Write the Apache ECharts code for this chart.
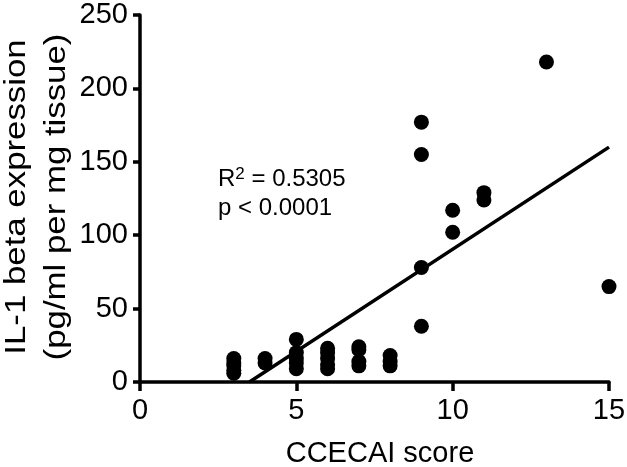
<!DOCTYPE html>
<html>
<head>
<meta charset="utf-8">
<script src="https://cdn.jsdelivr.net/npm/echarts@6/dist/echarts.min.js"></script>
<style>html,body{margin:0;padding:0;background:#fff}#c{width:627px;height:467px}</style>
</head>
<body>
<div id="c"></div>
<script>
// CCECAI score (x) vs IL-1 beta expression (y)
var scoreX = [3,3,3,3,3, 4,4, 5,5,5,5,5, 6,6,6,6,6, 7,7,7,7, 8,8,8, 9,9,9,9, 10,10, 11,11, 13, 15];
var il1Y   = [16,13,11,8,6, 16,13, 29,20,16,13,9, 23,20,16,12,9, 24,22,14,11, 18,14,11, 177,155,78,38, 117,102, 129,124, 218, 65];
// regression line end points
var fitX = [3.5, 15];
var fitY = [0, 160];
var xTicks = [0, 5, 10, 15];
var yTicks = [0, 50, 100, 150, 200, 250];
var statR = ['R', '2', ' = 0.5305'];
var statP = 'p < 0.0001';
var yTitle = ['IL-1 beta expression', '(pg/ml per mg tissue)'];
var xTitle = 'CCECAI score';

var FONT = '"Liberation Sans", Arial, Helvetica, sans-serif';
var points = scoreX.map(function (x, i) { return [x, il1Y[i]]; });
var fit = fitX.map(function (x, i) { return [x, fitY[i]]; });

var chart = echarts.init(document.getElementById('c'), null, {renderer: 'canvas'});
chart.setOption({
  animation: false,
  backgroundColor: '#ffffff',
  grid: {left: 140, right: 18, top: 15, bottom: 85, containLabel: false, outerBoundsMode: 'none'},
  xAxis: {
    type: 'value', min: xTicks[0], max: xTicks[xTicks.length - 1], interval: 5,
    axisLine: {lineStyle: {color: '#000', width: 3.5}},
    axisTick: {show: true, length: 9, lineStyle: {color: '#000', width: 3.5}},
    axisLabel: {color: '#000', fontSize: 29, fontFamily: FONT, margin: 14},
    splitLine: {show: false}
  },
  yAxis: {
    type: 'value', min: yTicks[0], max: yTicks[yTicks.length - 1], interval: 50,
    axisLine: {show: true, lineStyle: {color: '#000', width: 3.5}},
    axisTick: {show: true, length: 7, lineStyle: {color: '#000', width: 3.5}},
    axisLabel: {color: '#000', fontSize: 29, fontFamily: FONT, margin: 12},
    splitLine: {show: false}
  },
  graphic: [
    {
      type: 'text', x: 37, y: 197, rotation: Math.PI / 2, scaleX: 1.2, scaleY: 1,
      style: {text: yTitle.join('\n'), fill: '#000', font: '29px ' + FONT,
        align: 'center', verticalAlign: 'middle', lineHeight: 40}
    },
    {
      type: 'text', x: 380, y: 454,
      style: {text: xTitle, fill: '#000', font: '29px ' + FONT,
        align: 'center', verticalAlign: 'middle'}
    },
    {
      type: 'text', x: 218, y: 179,
      style: {
        text: '{r|' + statR[0] + '}{s|' + statR[1] + '}{r|' + statR[2] + '}',
        fill: '#000', align: 'left', verticalAlign: 'middle',
        rich: {
          r: {fontSize: 24, fontFamily: FONT, fill: '#000', lineHeight: 26},
          s: {fontSize: 17, fontFamily: FONT, fill: '#000', verticalAlign: 'top', lineHeight: 17}
        }
      }
    },
    {
      type: 'text', x: 218, y: 208,
      style: {text: statP, fill: '#000', font: '24px ' + FONT, align: 'left', verticalAlign: 'middle'}
    }
  ],
  series: [
    {
      type: 'line', data: fit, symbol: 'none', silent: true,
      lineStyle: {color: '#000', width: 3.5}, z: 3
    },
    {
      type: 'scatter', data: points, symbol: 'circle', symbolSize: [15, 15],
      itemStyle: {color: '#000', opacity: 1}, z: 4
    }
  ]
});
</script>
</body>
</html>
